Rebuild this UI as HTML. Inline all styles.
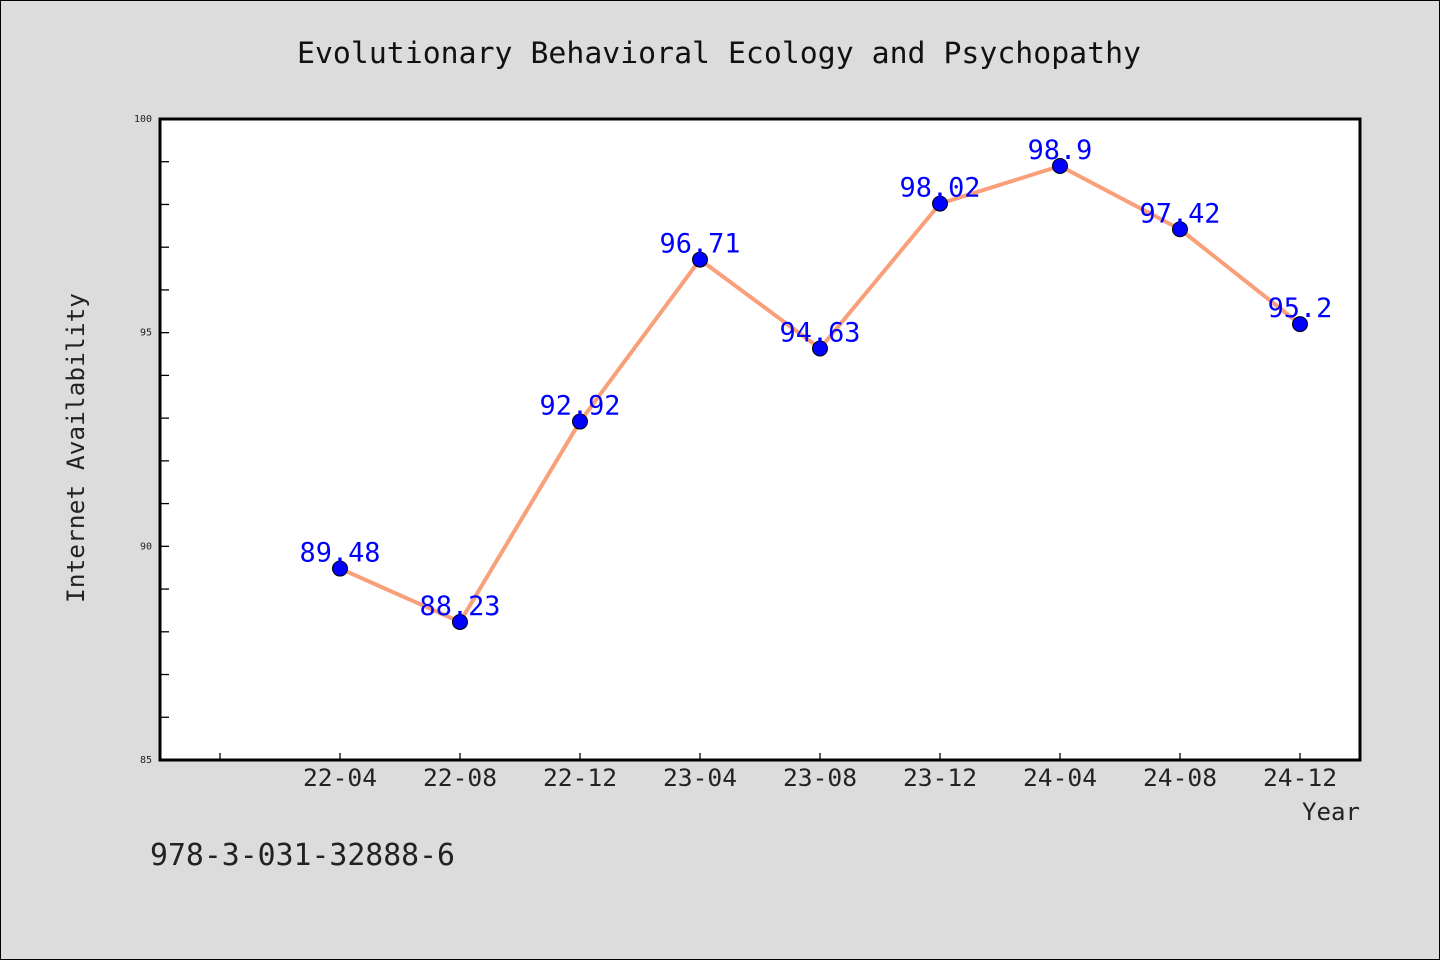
<!DOCTYPE html>
<html><head><meta charset="utf-8"><style>
body{margin:0;background:#dcdcdc;}
svg{display:block;font-family:"WenQuanYi Zen Hei Mono","DejaVu Sans Mono","Liberation Mono",monospace;}
</style></head><body>
<svg width="1440" height="960">
<rect x="0.5" y="0.5" width="1439" height="959" fill="#dcdcdc" stroke="#000"/>
<text x="297" y="63" font-size="29" fill="#111" textLength="844" lengthAdjust="spacingAndGlyphs">Evolutionary Behavioral Ecology and Psychopathy</text>
<rect x="160" y="119" width="1200" height="641" fill="#fff"/>
<g id="ticks"></g>
<g id="series"></g>
<rect x="160" y="119" width="1200" height="641" fill="none" stroke="#000" stroke-width="3"/>
<text x="0" y="0" font-size="24" fill="#222" textLength="310" lengthAdjust="spacingAndGlyphs" transform="translate(84 603) rotate(-90)">Internet Availability</text>
<text x="1302" y="820" font-size="24" fill="#222" textLength="58" lengthAdjust="spacingAndGlyphs">Year</text>
<text x="150" y="865" font-size="30" fill="#222" textLength="305" lengthAdjust="spacingAndGlyphs">978-3-031-32888-6</text>
</svg>
<script>
const categories=["22-04","22-08","22-12","23-04","23-08","23-12","24-04","24-08","24-12"];
const values=[89.48,88.23,92.92,96.71,94.63,98.02,98.9,97.42,95.2];
const labels=["89.48","88.23","92.92","96.71","94.63","98.02","98.9","97.42","95.2"];
const yTicks=[85,90,95,100];
const NS="http://www.w3.org/2000/svg";
const X0=160,X1=1360,Y0=119,Y1=760,YMIN=85,YMAX=100;
function x(i){return X0+(i+1.5)*(X1-X0)/(categories.length+1);}
function y(v){return Y1-(v-YMIN)/(YMAX-YMIN)*(Y1-Y0);}
function mk(tag,attrs,parent){const e=document.createElementNS(NS,tag);for(const k in attrs)e.setAttribute(k,attrs[k]);parent.appendChild(e);return e;}
const tg=document.getElementById('ticks'),sg=document.getElementById('series');
for(let v=YMIN;v<=YMAX;v++){
 const t=mk('line',{x1:X0,x2:X0+9,y1:y(v),y2:y(v),stroke:'#000','stroke-width':1.3},tg);
 
 
}
yTicks.forEach(v=>{
 const t=mk('text',{x:X0-8,y:y(v)+3,'text-anchor':'end','font-size':10,fill:'#222'},tg);
 t.textContent=v;
 
 
});
for(let i=-1;i<categories.length;i++){
 const t=mk('line',{x1:x(i),x2:x(i),y1:Y1,y2:Y1-7,stroke:'#000','stroke-width':1.3},tg);
 
 
}
categories.forEach((c,i)=>{
 const t=mk('text',{x:x(i)-37,y:Y1+26,'font-size':24,fill:'#222',textLength:74,lengthAdjust:'spacingAndGlyphs'},tg);
 t.textContent=c;
 
 
});
const pl=mk('polyline',{points:values.map((v,i)=>x(i)+','+y(v)).join(' '),fill:'none',stroke:'#f9a07a','stroke-width':4,'stroke-linejoin':'round'},sg);


values.forEach((v,i)=>{
 const c=mk('circle',{cx:x(i),cy:y(v),r:7.5,fill:'#0000ff',stroke:'#000','stroke-width':1},sg);
 
 
 const w=labels[i].length*16.2;
 const t=mk('text',{x:x(i)-w/2,y:y(v)-7,'font-size':27,fill:'#0000ff',textLength:w,lengthAdjust:'spacingAndGlyphs'},sg);
 t.textContent=labels[i];
 
 
});
</script>
</body></html>
